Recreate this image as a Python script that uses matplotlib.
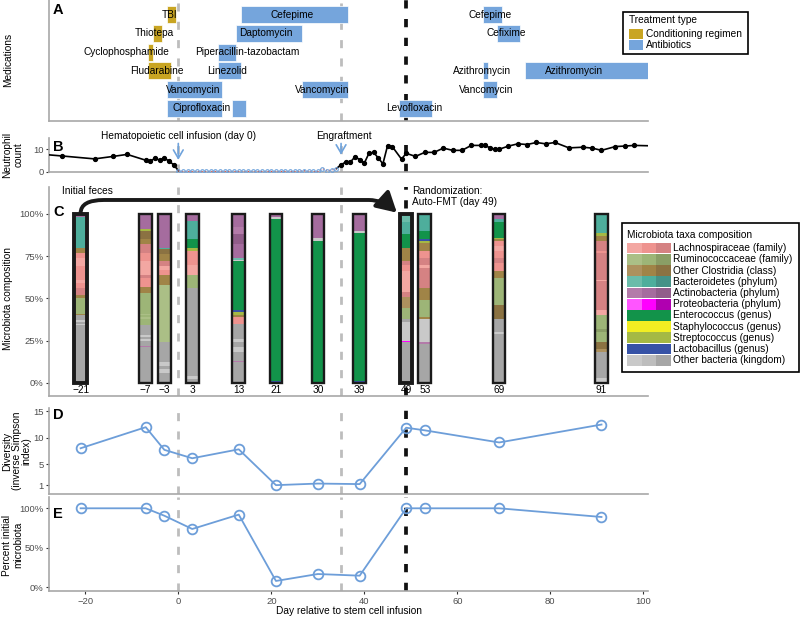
import numpy as np
import matplotlib.pyplot as plt
from matplotlib.patches import Rectangle, FancyArrowPatch
from matplotlib.path import Path

plt.rcParams['font.family'] = ['Liberation Sans', 'DejaVu Sans']

# ---------------- data ----------------
infusion_day = 0
engraft_day = 35
fmt_day = 49

# A: medications (rows top to bottom)
med_bar_row = [0, 0, 0, 1, 1, 1, 2, 2, 3, 3, 3, 3, 4, 4, 4, 5, 5, 5]
med_bar_start = [-2.5, 13.5, 65.5, -5.5, 12.5, 68.5, -6.5, 8.5, -6.5, 8.5, 65.5, 74.5,
                 -2.5, 26.5, 65.5, -2.5, 11.5, 47.5]
med_bar_end = [-0.5, 36.5, 69.5, -3.5, 26.5, 73.5, -5.5, 12.5, -1.5, 13.5, 66.5, 102,
               9.5, 36.5, 68.5, 9.5, 14.5, 54.5]
med_bar_type = ['cond', 'abx', 'abx', 'cond', 'abx', 'abx', 'cond', 'abx', 'cond', 'abx',
                'abx', 'abx', 'abx', 'abx', 'abx', 'abx', 'abx', 'abx']

med_label = ['TBI', 'Cefepime', 'Cefepime', 'Thiotepa', 'Daptomycin', 'Cefixime',
             'Cyclophosphamide', 'Piperacillin-tazobactam', 'Fludarabine', 'Linezolid',
             'Azithromycin', 'Azithromycin', 'Vancomycin', 'Vancomycin', 'Vancomycin',
             'Ciprofloxacin', 'Levofloxacin']
med_label_row = [0, 0, 0, 1, 1, 1, 2, 2, 3, 3, 3, 3, 4, 4, 4, 5, 5]
med_label_day = [-1.8, 24.5, 67.0, -5.1, 18.8, 70.6, -11.2, 14.8, -4.7, 10.5, 65.3, 85.2,
                 3.2, 30.9, 66.3, 5.1, 50.7]

treat_names = ['Conditioning regimen', 'Antibiotics']
treat_colors = {'cond': '#c9a522', 'abx': '#75a5dc'}

# B: neutrophil count
neut_day = [-29, -25, -18, -14, -11, -7, -6, -5, -4, -3, -2, -1,
            0, 1, 2, 3, 4, 5, 6, 7, 8, 9, 10, 11, 12, 13, 14, 15, 16, 17,
            18, 19, 20, 21, 22, 23, 24, 25, 26, 27, 28, 29, 30, 31, 32, 33, 34,
            35, 36, 37, 38, 39, 40, 41, 42, 43, 44, 45, 46, 48, 49, 51, 53, 55,
            57, 59, 61, 63, 65, 66, 67, 68, 69, 71, 73, 75, 77, 79, 81, 84, 87,
            89, 91, 94, 96, 98, 102]
neut_val = [7.7, 7.0, 5.7, 6.8, 7.7, 5.1, 4.7, 6.0, 5.1, 6.1, 4.7, 3.1,
            0.5, 0.1, 0.1, 0.1, 0.1, 0.1, 0.1, 0.1, 0.1, 0.1, 0.1, 0.1, 0.1, 0.1, 0.1, 0.1, 0.1, 0.1,
            0.1, 0.1, 0.1, 0.1, 0.1, 0.1, 0.1, 0.1, 0.1, 0.5, 0.1, 0.1, 0.1, 1.4, 0.5, 0.7, 1.4,
            3.1, 4.3, 4.3, 6.6, 5.4, 3.8, 8.2, 8.6, 6.1, 3.5, 11.6, 11.2, 5.6, 8.2, 6.8, 8.6, 8.6,
            10.5, 9.5, 9.5, 11.7, 11.7, 11.7, 10.6, 10.0, 10.0, 11.4, 12.4, 12.1, 13.0, 12.4, 13.0, 10.6, 10.9,
            10.5, 9.5, 11.2, 11.4, 11.7, 11.5]

# C: microbiota composition, (taxon, shade, percent) from bottom to top
sample_days = [-21, -7, -3, 3, 13, 21, 30, 39, 49, 53, 69, 91]
composition = [
    [('oth', 2, 34), ('oth', 0, 1), ('oth', 2, 1), ('oth', 0, 1), ('oth', 2, 3), ('clo', 1, 1),
     ('rum', 1, 9), ('clo', 1, 2), ('lach', 2, 4), ('lach', 1, 3), ('lach', 0, 2), ('lach', 1, 8),
     ('lach', 0, 5), ('lach', 1, 3), ('clo', 1, 3), ('bac', 1, 18), ('act', 1, 2)],
    [('oth', 2, 21), ('act', 0, 1), ('oth', 2, 3), ('oth', 0, 1), ('oth', 2, 1), ('oth', 0, 1),
     ('oth', 2, 6), ('rum', 1, 4), ('rum', 0, 1), ('rum', 1, 1), ('rum', 0, 1), ('rum', 1, 12),
     ('clo', 1, 4), ('lach', 1, 5), ('lach', 2, 2), ('lach', 0, 8), ('lach', 1, 5), ('lach', 2, 5),
     ('clo', 1, 3), ('clo', 2, 5), ('str', 0, 1), ('act', 1, 9)],
    [('oth', 2, 6), ('oth', 0, 2), ('oth', 2, 2), ('oth', 0, 2), ('oth', 2, 12), ('rum', 0, 34),
     ('clo', 1, 6), ('lach', 1, 3), ('lach', 0, 2), ('lach', 2, 3), ('clo', 1, 4), ('clo', 2, 3),
     ('bac', 1, 1), ('act', 1, 20)],
    [('oth', 2, 2), ('oth', 0, 2), ('oth', 2, 52), ('rum', 1, 8), ('lach', 0, 6), ('lach', 1, 8),
     ('str', 0, 2), ('ent', 0, 5), ('bac', 1, 11), ('act', 1, 4)],
    [('oth', 2, 12), ('act', 0, 1), ('oth', 2, 5), ('oth', 0, 3), ('oth', 2, 3), ('oth', 0, 2),
     ('oth', 2, 9), ('lach', 1, 4), ('clo', 1, 1), ('str', 0, 2), ('lac', 0, 1), ('ent', 0, 29),
     ('oth', 0, 1), ('bac', 0, 1), ('act', 1, 8), ('act', 2, 6), ('act', 0, 4), ('act', 1, 8)],
    [('lac', 0, 1), ('ent', 0, 96), ('oth', 0, 1), ('act', 1, 2)],
    [('ent', 0, 84), ('oth', 0, 2), ('act', 1, 14)],
    [('lac', 0, 1), ('ent', 0, 88), ('oth', 0, 1), ('act', 1, 10)],
    [('oth', 2, 24), ('pro', 1, 1), ('oth', 0, 11), ('oth', 2, 2), ('rum', 1, 6), ('clo', 0, 7),
     ('lach', 2, 3), ('lach', 0, 12), ('lach', 1, 4), ('lach', 2, 2), ('clo', 1, 8), ('ent', 0, 8),
     ('bac', 1, 7), ('bac', 0, 5)],
    [('oth', 2, 23), ('act', 0, 1), ('oth', 0, 14), ('clo', 1, 1), ('rum', 1, 10), ('clo', 1, 7),
     ('lach', 2, 12), ('lach', 0, 2), ('lach', 2, 4), ('lach', 1, 4), ('clo', 1, 5), ('str', 0, 1),
     ('lac', 0, 1), ('ent', 0, 5), ('bac', 1, 10)],
    [('oth', 2, 29), ('oth', 0, 1), ('oth', 2, 8), ('clo', 2, 8), ('rum', 1, 16), ('clo', 1, 4),
     ('lach', 1, 5), ('lach', 2, 3), ('lach', 1, 4), ('lach', 0, 3), ('lach', 1, 3), ('clo', 1, 1),
     ('str', 0, 1), ('ent', 0, 9), ('bac', 1, 2), ('act', 1, 3)],
    [('oth', 0, 3), ('oth', 2, 15), ('clo', 0, 2), ('clo', 2, 4), ('rum', 1, 6), ('rum', 2, 2),
     ('rum', 1, 8), ('lach', 0, 3), ('lach', 2, 17), ('lach', 0, 1), ('lach', 2, 16), ('lach', 1, 1),
     ('lach', 2, 6), ('clo', 1, 3), ('str', 0, 2), ('bac', 1, 11)],
]

taxa_keys = ['lach', 'rum', 'clo', 'bac', 'act', 'pro', 'ent', 'sta', 'str', 'lac', 'oth']
taxa_names = ['Lachnospiraceae (family)', 'Ruminococcaceae (family)', 'Other Clostridia (class)',
              'Bacteroidetes (phylum)', 'Actinobacteria (phylum)', 'Proteobacteria (phylum)',
              'Enterococcus (genus)', 'Staphylococcus (genus)', 'Streptococcus (genus)',
              'Lactobacillus (genus)', 'Other bacteria (kingdom)']
taxa_colors = {
    'lach': ['#f3a7a2', '#ee938f', '#d58283'],
    'rum': ['#abbf86', '#9db577', '#8a9e66'],
    'clo': ['#ad915e', '#a08447', '#8b7242'],
    'bac': ['#6bbcaa', '#4eae9c', '#459287'],
    'act': ['#b37ba9', '#a56c9e', '#915d8a'],
    'pro': ['#ff55ff', '#ff00ff', '#b000b0'],
    'ent': ['#12934a'] * 3,
    'sta': ['#f2ee22'] * 3,
    'str': ['#a5b944'] * 3,
    'lac': ['#3652a6'] * 3,
    'oth': ['#c9c9c9', '#bdbdbd', '#a6a6a6'],
}

# D, E: diversity and percent initial microbiota
diversity = [8.0, 12.0, 7.7, 6.1, 7.8, 1.0, 1.3, 1.2, 11.9, 11.4, 9.1, 12.5]
pct_initial = [100, 100, 90.6, 73.8, 92.0, 8.0, 16.8, 14.7, 100, 100, 100, 89.0]

# ---------------- layout ----------------
W, H = 800, 617
fig = plt.figure(figsize=(8, 6.17), dpi=100)


def rect(x0, y0, x1, y1):
    return [x0 / W, 1 - y1 / H, (x1 - x0) / W, (y1 - y0) / H]


XL = (-27.8, 101.0)
FS = 7.3
TFS = 6.8
SPINE = '#a8a8a8'
GRAY_DASH = '#bdbdbd'
LINE_BLUE = '#6d9ed9'

axA = fig.add_axes(rect(49, 0, 648, 121))
axB = fig.add_axes(rect(49, 138, 648, 172.5))
axC = fig.add_axes(rect(49, 187, 648, 396))
axD = fig.add_axes(rect(49, 408, 648, 494))
axE = fig.add_axes(rect(49, 497, 648, 591))

for ax in [axA, axB, axC, axD, axE]:
    ax.set_xlim(*XL)
    for s in ['top', 'right']:
        ax.spines[s].set_visible(False)
    for s in ['left', 'bottom']:
        ax.spines[s].set_color(SPINE)
        ax.spines[s].set_linewidth(1.2)
    ax.tick_params(labelsize=TFS, labelcolor='#4d4d4d', color='#333333', length=2.5, width=0.8, pad=1.5)
    ax.patch.set_alpha(0)
    ax.axvline(infusion_day, color=GRAY_DASH, lw=2, ls=(0, (2.9, 3.7)), zorder=0.5)
    ax.axvline(engraft_day, color=GRAY_DASH, lw=2, ls=(0, (2.9, 3.7)), zorder=0.5)
    ax.axvline(fmt_day, color='#111111', lw=2.7, ls=(0, (2.2, 2.8)), zorder=0.6)
    if ax is not axE:
        ax.set_xticks([])

# A
for r, s, e, t in zip(med_bar_row, med_bar_start, med_bar_end, med_bar_type):
    axA.barh(r, e - s, left=s, height=0.9, color=treat_colors[t], edgecolor='white', lw=0.5, zorder=2)
for txt, r, d in zip(med_label, med_label_row, med_label_day):
    axA.text(d, r, txt, ha='center', va='center', fontsize=FS, zorder=4)
axA.set_ylim(5.68, -0.786)
axA.set_yticks([])

# B
nd = np.array(neut_day)
nv = np.array(neut_val, dtype=float)
low = (nd >= infusion_day) & (nd < engraft_day)
black_v = np.where((nd > infusion_day) & (nd < engraft_day - 1), np.nan, nv)
axB.plot(nd, black_v, color='black', lw=1.2, zorder=3)
axB.plot(nd[~low], nv[~low], 'o', color='black', ms=2.8, zorder=4)
axB.plot(nd[low], nv[low], color='#d9534f', lw=0.9, ls=':', zorder=3)
axB.plot(nd[low], nv[low], 'o', ms=2.6, mfc='none', mec='#6fa3dc', mew=0.8, zorder=4)
axB.set_ylim(-0.36, 15.0)
axB.set_yticks([0, 10])
arrow_kw = dict(arrowstyle='->,head_length=0.6,head_width=0.35', color='#6fa3dc', lw=1.2)
axB.annotate('', xy=(infusion_day, 4.0), xytext=(infusion_day, 13.8), arrowprops=arrow_kw,
             annotation_clip=False)
axB.annotate('', xy=(engraft_day, 6.3), xytext=(engraft_day, 13.8), arrowprops=arrow_kw,
             annotation_clip=False)
axB.text(infusion_day, 15.9, 'Hematopoietic cell infusion (day 0)', ha='center', va='center',
         fontsize=FS, clip_on=False)
axB.text(engraft_day + 0.7, 15.9, 'Engraftment', ha='center', va='center', fontsize=FS, clip_on=False)

# C
bw = 2.7
for d, segs in zip(sample_days, composition):
    bottom = 0
    for taxon, shade, pct in segs:
        axC.bar(d, pct, bottom=bottom, width=bw, color=taxa_colors[taxon][shade], lw=0, zorder=2)
        bottom += pct
    thick = d in (sample_days[0], fmt_day)
    axC.bar(d, 100, width=bw, fill=False, edgecolor='#1a1a1a', lw=2.8 if thick else 1.7, zorder=3)
    axC.text(d, -4.3, str(d).replace('-', '\u2212'), ha='center', va='center', fontsize=FS)
axC.set_ylim(-7.9, 116)
axC.set_yticks([0, 25, 50, 75, 100])
axC.set_yticklabels(['0%', '25%', '50%', '75%', '100%'])
axC.text(-25, 113.6, 'Initial feces', ha='left', va='center', fontsize=FS)
axC.text(fmt_day + 1.2, 110.3, 'Randomization:\nAuto-FMT (day 49)', ha='left', va='center',
         fontsize=FS, linespacing=1.15)

d0 = sample_days[0]
d1 = fmt_day - 2
verts = [(d0, 100.5), (d0, 108.3), (d0 + 5, 108.3), (d1 - 6, 108.3), (d1 - 3, 108.3), (d1, 100.8)]
codes = [Path.MOVETO, Path.CURVE3, Path.CURVE3, Path.LINETO, Path.CURVE3, Path.CURVE3]
arr = FancyArrowPatch(path=Path(verts, codes), arrowstyle='-|>,head_length=0.8,head_width=0.45',
                      mutation_scale=15, lw=2.8, color='#1a1a1a', zorder=5, clip_on=False)
axC.add_patch(arr)

# D
axD.plot(sample_days, diversity, color=LINE_BLUE, lw=1.3, marker='o', ms=7, mfc='none',
         mec=LINE_BLUE, mew=1.3, zorder=3)
axD.set_ylim(-0.68, 15.64)
axD.set_yticks([1, 5, 10, 15])

# E
axE.plot(sample_days, pct_initial, color=LINE_BLUE, lw=1.3, marker='o', ms=7, mfc='none',
         mec=LINE_BLUE, mew=1.3, zorder=3)
axE.set_ylim(-4.7, 114.3)
axE.set_yticks([0, 50, 100])
axE.set_yticklabels(['0%', '50%', '100%'])
axE.set_xticks([-20, 0, 20, 40, 60, 80, 100])

# ---------------- overlay: labels and legends ----------------
ov = fig.add_axes([0, 0, 1, 1])
ov.set_xlim(0, W)
ov.set_ylim(H, 0)
ov.axis('off')
ov.patch.set_alpha(0)

for letter, y in zip('ABCDE', [3, 140, 205, 408, 507]):
    ov.text(53, y, letter, ha='left', va='top', fontsize=10.5, fontweight='bold')

ylabels = [('Medications', 8, 60, 1.15), ('Neutrophil\ncount', 13, 155, 1.15),
           ('Microbiota composition', 8.5, 299, 1.15),
           ('Diversity\n(inverse Simpson\nindex)', 17, 451, 0.98),
           ('Percent initial\nmicrobiota', 12.5, 545, 1.15)]
for txt, x, y, ls in ylabels:
    ov.text(x, y, txt, rotation=90, ha='center', va='center', fontsize=FS, multialignment='center',
            linespacing=ls)
ov.text(348.5, 611, 'Day relative to stem cell infusion', ha='center', va='center', fontsize=FS)

# treatment legend
ov.add_patch(Rectangle((623, 11.7), 124.7, 42.3, fill=False, edgecolor='black', lw=1.2))
ov.text(629.3, 20, 'Treatment type', ha='left', va='center', fontsize=FS)
for i, (name, key) in enumerate(zip(treat_names, ['cond', 'abx'])):
    yc = 33.8 + i * 11
    ov.add_patch(Rectangle((629.3, yc - 5), 14, 10, color=treat_colors[key], lw=0))
    ov.text(646, yc, name, ha='left', va='center', fontsize=FS)

# taxa legend
ov.add_patch(Rectangle((621.7, 223), 177.3, 148.5, fill=False, edgecolor='black', lw=1.2))
ov.text(627.3, 234.7, 'Microbiota taxa composition', ha='left', va='center', fontsize=FS)
for i, (key, name) in enumerate(zip(taxa_keys, taxa_names)):
    yc = 248.2 + i * 11.2
    for j, col in enumerate(taxa_colors[key]):
        ov.add_patch(Rectangle((627.3 + j * 14.47, yc - 5.3), 14.47, 10.6, color=col, lw=0))
    ov.text(672.7, yc, name, ha='left', va='center', fontsize=FS)

fig.savefig('out.png', dpi=100)
